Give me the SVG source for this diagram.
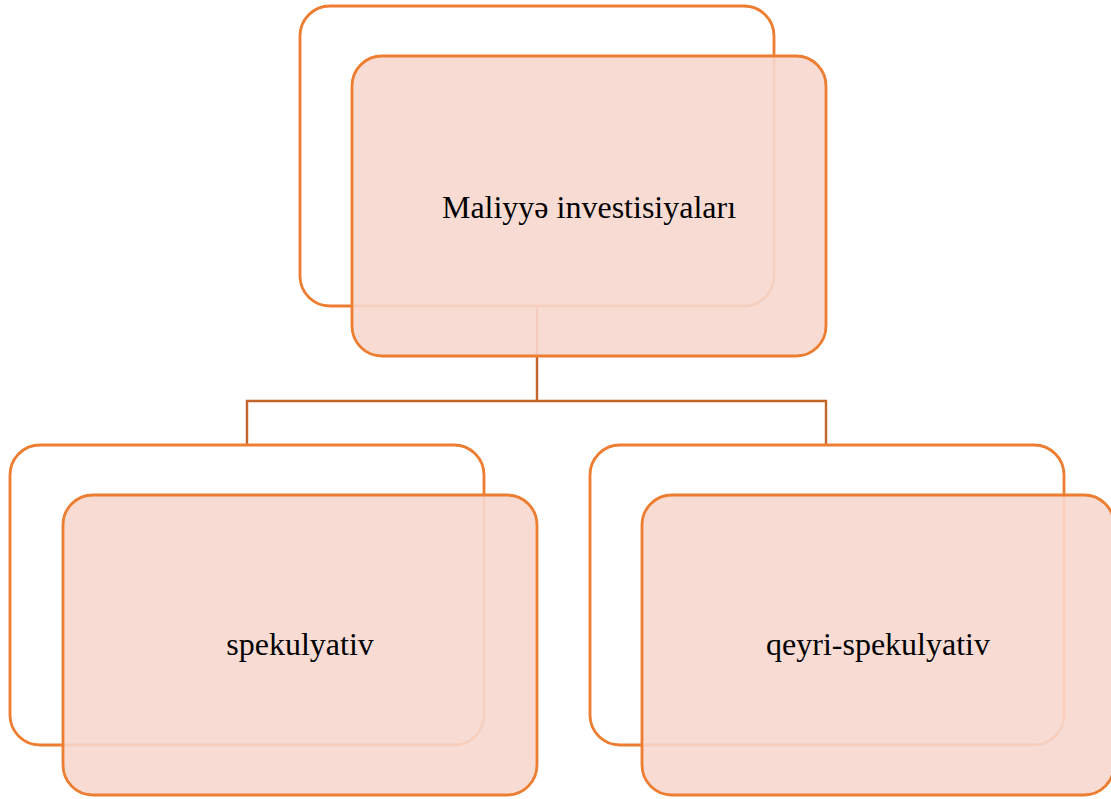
<svg xmlns="http://www.w3.org/2000/svg" width="1111" height="799" viewBox="0 0 1111 799">
<style>
.back{fill:#ffffff;stroke:#ED7D31;stroke-width:2.8}
.front{fill:#F7D8CF;fill-opacity:0.9;stroke:#ED7D31;stroke-width:2.8}
.conn{fill:none;stroke:#C4662B;stroke-width:2.4}
.lbl{font-family:"Liberation Serif","Times New Roman",serif;font-size:32px;fill:#000;text-anchor:middle}
</style>
<rect width="1111" height="799" fill="#ffffff"/>
<g id="connectors">
<path class="conn" d="M537 306 V401 M247 445 V401 H826 V445"/>
</g>
<g id="node-maliyye">
<rect class="back" x="300" y="6" width="474" height="300" rx="30"/>
<rect class="front" x="352" y="56" width="474" height="300" rx="30"/>
<text class="lbl" x="589" y="218">Maliyyə investisiyaları</text>
</g>
<g id="node-spekulyativ">
<rect class="back" x="10" y="445" width="474" height="300" rx="30"/>
<rect class="front" x="63" y="495" width="474" height="300" rx="30"/>
<text class="lbl" x="300" y="655">spekulyativ</text>
</g>
<g id="node-qeyri">
<rect class="back" x="590" y="445" width="474" height="300" rx="30"/>
<rect class="front" x="642" y="495" width="472" height="300" rx="30"/>
<text class="lbl" x="878" y="655">qeyri-spekulyativ</text>
</g>
</svg>
